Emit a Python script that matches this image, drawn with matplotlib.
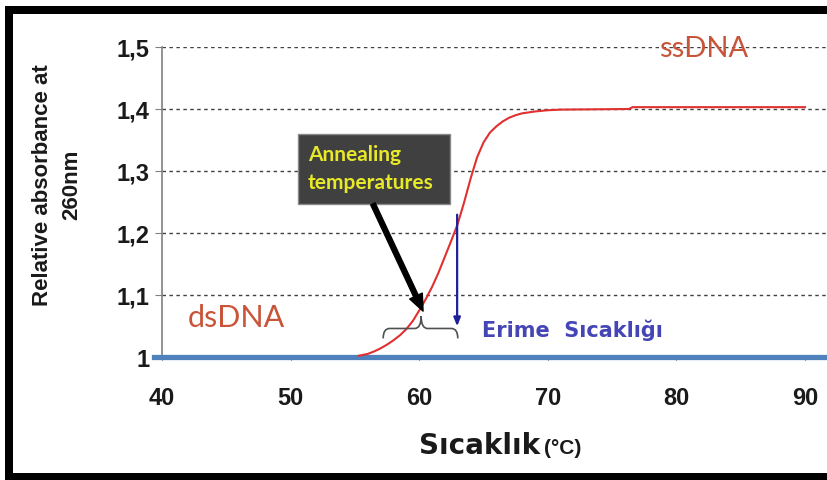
import matplotlib
matplotlib.use("Agg")
import matplotlib.pyplot as plt
from matplotlib.patches import Rectangle, FancyArrowPatch, PathPatch
from matplotlib.path import Path

# ---- data ----
temps = [55.3, 56.0, 56.5, 57.0, 57.5, 58.0, 58.5, 59.0, 59.5, 60.0, 60.5, 61.0,
         61.5, 62.0, 62.5, 63.0, 63.5, 64.0, 64.5, 65.0, 65.5, 66.0, 66.5, 67.0,
         67.5, 68.0, 69.0, 70.0, 71.0, 76.3, 76.6, 90.0]
absorb = [1.002, 1.005, 1.009, 1.014, 1.020, 1.027, 1.035, 1.045, 1.058, 1.075,
          1.093, 1.113, 1.136, 1.162, 1.188, 1.215, 1.250, 1.288, 1.322, 1.346,
          1.362, 1.372, 1.380, 1.386, 1.390, 1.393, 1.396, 1.398, 1.399, 1.400,
          1.403, 1.403]
xticks = [40, 50, 60, 70, 80, 90]
yticks = [1.0, 1.1, 1.2, 1.3, 1.4, 1.5]
ytick_labels = ["1", "1,1", "1,2", "1,3", "1,4", "1,5"]
baseline = 1.0

W, H = 827, 481
fig = plt.figure(figsize=(W / 100, H / 100), dpi=100)
fig.patch.set_facecolor("white")

# axes placement (pixels -> fig fraction)
x0, x1 = 162, 827
y_top, y_bot = 48, 358
ax = fig.add_axes([x0 / W, 1 - y_bot / H, (x1 - x0) / W, (y_bot - y_top) / H])
ax.set_xlim(40, 40 + (x1 - x0) / 12.86)
ax.set_ylim(1.0, 1.5)

for s in ["top", "right", "bottom"]:
    ax.spines[s].set_visible(False)
ax.spines["left"].set_color("#808080")
ax.spines["left"].set_linewidth(1.2)

ax.set_xticks(xticks)
ax.set_yticks(yticks)
ax.set_yticklabels(ytick_labels)
ax.tick_params(axis="y", direction="out", length=5, color="#808080", pad=4,
               labelsize=17)
ax.tick_params(axis="x", direction="out", length=2, color="#404040", pad=19,
               labelsize=17)
for lab in ax.get_xticklabels() + ax.get_yticklabels():
    lab.set_fontfamily("Liberation Sans")
    lab.set_fontweight("bold")
    lab.set_color("#1a1a1a")

# dotted gridlines
for yv in yticks[1:]:
    ax.axhline(yv, color="#404040", lw=1.0, ls=(0, (2.5, 2.5)), zorder=1)

# blue baseline
ax.axhline(baseline, xmin=-0.012, xmax=1, color="#4f81bd", lw=3.8,
           clip_on=False, zorder=3)

# melting curve
ax.plot(temps, absorb, color="#e03030", lw=1.5, zorder=4,
        solid_joinstyle="round")

# labels ssDNA / dsDNA
ax.text(82.1, 1.498, "ssDNA", color="#c8553a", fontsize=21, family="Lato",
        ha="center", va="center", zorder=2)
ax.text(45.75, 1.065, "dsDNA", color="#c8553a", fontsize=22, family="Lato",
        ha="center", va="center", zorder=2)

# annealing box
box = Rectangle((50.58, 1.247), 62.4 - 50.58, 1.36 - 1.247, facecolor="#404040",
                edgecolor="#8a8a8a", lw=1.0, zorder=5)
ax.add_patch(box)
ax.text(51.35, 1.327, "Annealing", color="#e8e82a", fontsize=15, family="Lato",
        fontweight="bold", ha="left", va="center", zorder=6)
ax.text(51.35, 1.282, "temperatures", color="#e8e82a", fontsize=15, family="Lato",
        fontweight="bold", ha="left", va="center", zorder=6)

# black arrow
arr = FancyArrowPatch((56.4, 1.247), (60.3, 1.074),
                      arrowstyle="simple,head_length=12,head_width=10,tail_width=3.5",
                      color="black", zorder=6, shrinkA=0, shrinkB=0)
ax.add_patch(arr)

# curly brace
bl, bm, br = 57.2, 60.15, 63.0
yb, yh, yt = 1.030, 1.046, 1.066
verts = [(bl, yb), (bl, yh), (bl + 0.5, yh),
         (bm - 0.5, yh), (bm, yh), (bm, yt),
         (bm, yh), (bm + 0.5, yh),
         (br - 0.5, yh), (br, yh), (br, yb)]
codes = [Path.MOVETO, Path.CURVE3, Path.CURVE3,
         Path.LINETO, Path.CURVE3, Path.CURVE3,
         Path.CURVE3, Path.CURVE3,
         Path.LINETO, Path.CURVE3, Path.CURVE3]
ax.add_patch(PathPatch(Path(verts, codes), facecolor="none", edgecolor="#505050",
                       lw=1.2, zorder=5))

# blue melting-point arrow
ax.annotate("", xy=(62.95, 1.045), xytext=(62.95, 1.234),
            arrowprops=dict(arrowstyle="-|>,head_length=0.5,head_width=0.2",
                            color="#1f1f9a", lw=1.6), zorder=6)
ax.text(64.9, 1.045, "Erime  Sıcaklığı", color="#4545b5", fontsize=15,
        family="DejaVu Sans", fontweight="bold", ha="left", va="center", zorder=6)

# axis labels
fig.text(57 / W, 1 - 185 / H, "Relative absorbance at\n260nm", rotation=90,
         ha="center", va="center", multialignment="center", fontsize=16,
         family="Liberation Sans", fontweight="bold", linespacing=1.5,
         color="#1a1a1a")
fig.text(540 / W, 1 - 446 / H, "Sıcaklık", ha="right", va="center", fontsize=20,
         family="DejaVu Sans", fontweight="bold", color="#1a1a1a")
fig.text(544 / W, 1 - 448 / H, "(°C)", ha="left", va="center", fontsize=15,
         family="Liberation Sans", fontweight="bold", color="#1a1a1a")

# black picture frame (left, top, bottom bands)
def band(px, py, pw, ph):
    fig.add_artist(Rectangle((px / W, 1 - (py + ph) / H), pw / W, ph / H,
                             transform=fig.transFigure, facecolor="black",
                             edgecolor="none", zorder=10))

band(5, 7, W - 5, 8)
band(5, 7, 8, H - 7)
band(5, 474, W - 5, 7)

fig.savefig("out.png", dpi=100)
